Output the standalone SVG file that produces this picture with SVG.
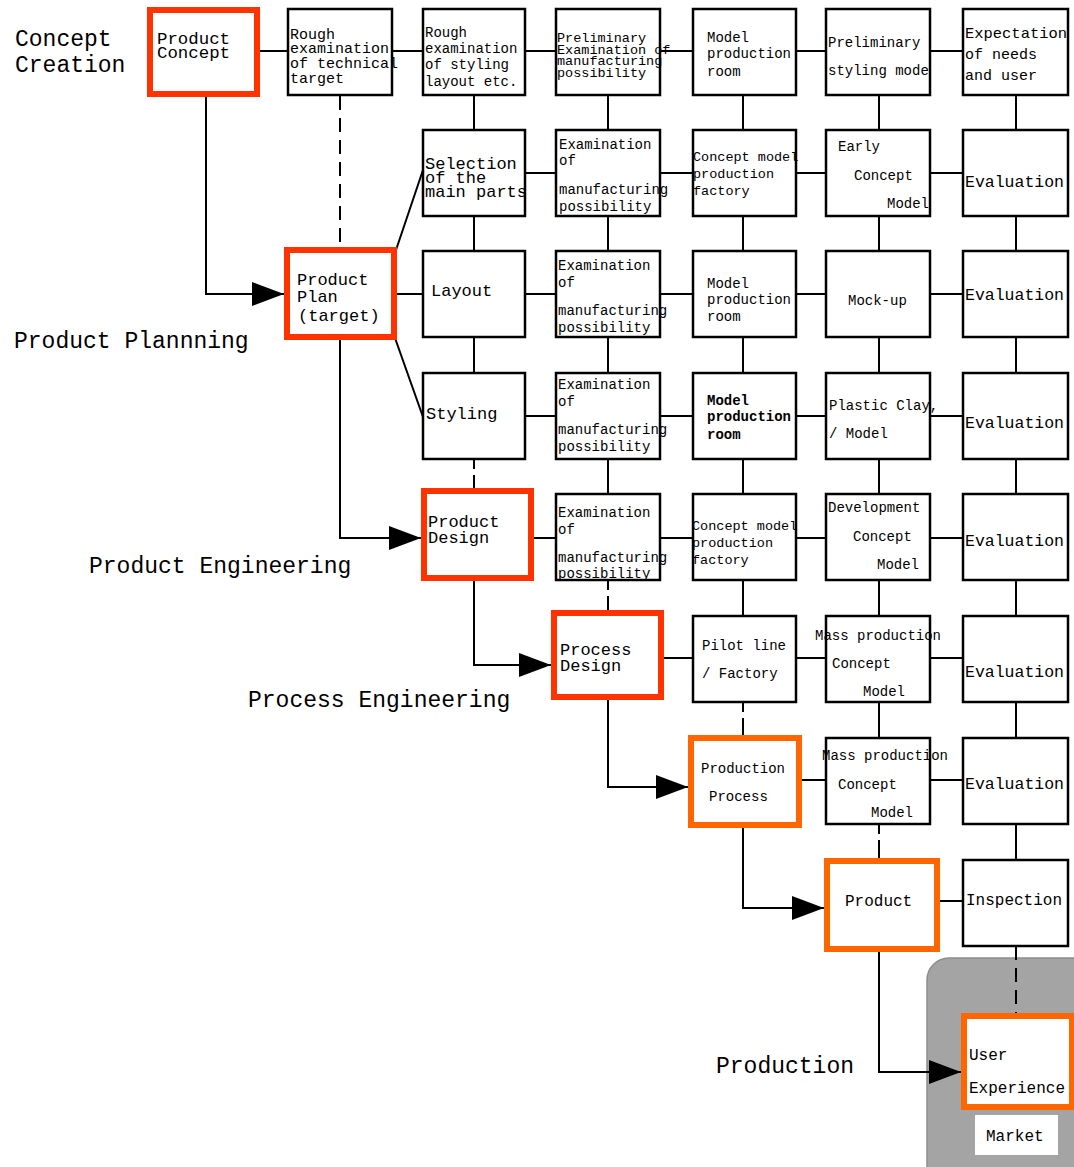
<svg xmlns="http://www.w3.org/2000/svg" width="1074" height="1167" viewBox="0 0 1074 1167">
<style>
.box{fill:#fff;stroke:#000;stroke-width:2.5}
.hr{fill:#fff;stroke:#ff3300;stroke-width:6}
.ho{fill:#fff;stroke:#ff6600;stroke-width:6}
.c{stroke:#000;stroke-width:2;fill:none}
.dash{stroke-dasharray:14 8}
.brk{stroke-dasharray:10 6 100 0}
text{font-family:"Liberation Mono","DejaVu Sans Mono",monospace;fill:#000}
.s13{font-size:13.5px}
.s14{font-size:14px}
.s15{font-size:15px}
.s16{font-size:16px}
.s17{font-size:17px}
.ev{font-size:16.5px}
.lab{font-size:23px}
.b{font-weight:bold}
</style>
<defs>
<marker id="ar" markerUnits="userSpaceOnUse" markerWidth="34" markerHeight="26" refX="32" refY="13" orient="auto">
<path d="M0 1 L32 13 L0 25 Z" fill="#000"/>
</marker>
</defs>
<rect width="1074" height="1167" fill="#fff"/>
<rect id="market-area" x="927" y="958" width="170" height="230" rx="22" fill="#a4a4a4" stroke="#8c8c8c" stroke-width="1.5"/>

<g id="labels">
<text class="lab" x="15" y="46">Concept</text>
<text class="lab" x="15" y="72">Creation</text>
<text class="lab" x="14" y="348">Product Plannning</text>
<text class="lab" x="89" y="573">Product Engineering</text>
<text class="lab" x="248" y="707">Process Engineering</text>
<text class="lab" x="716" y="1073">Production</text>
</g>

<g id="connectors">
<path class="c" d="M260 51H288M392 51H423M525 51H556M660 51H693M796 51H826M930 51H963"/>
<path class="c" d="M525 173H556M660 173H693M796 173H826M930 173H963"/>
<path class="c" d="M397 294H423M525 294H556M660 294H693M796 294H826M930 294H963"/>
<path class="c" d="M525 416H556M660 416H693M796 416H826M930 416H963"/>
<path class="c" d="M534 538H556M660 538H693M796 538H826M930 538H963"/>
<path class="c" d="M664 658H693M796 658H826M930 658H963"/>
<path class="c" d="M802 780H826M930 780H963"/>
<path class="c" d="M940 901H963"/>
<path class="c" d="M396 250L423 170M395 338L423 417"/>
<path class="c dash" d="M340 96V247"/>
<path class="c" d="M474 95V130M474 216V251M474 337V373"/>
<path class="c brk" d="M474 459V488"/>
<path class="c" d="M608 95V130M608 216V251M608 337V373M608 459V494"/>
<path class="c brk" d="M608 580V610"/>
<path class="c" d="M743 95V130M743 216V251M743 337V373M743 459V494M743 580V616"/>
<path class="c brk" d="M743 702V735"/>
<path class="c" d="M879 95V130M879 216V251M879 337V373M879 459V494M879 580V616M879 702V738"/>
<path class="c brk" d="M879 824V858"/>
<path class="c" d="M1016 95V130M1016 216V251M1016 337V373M1016 459V494M1016 580V616M1016 702V738M1016 824V860"/>
<path class="c dash" d="M1016 946V1013"/>
<path class="c" marker-end="url(#ar)" d="M206 97V294H284"/>
<path class="c" marker-end="url(#ar)" d="M340 340V538H421"/>
<path class="c" marker-end="url(#ar)" d="M474 581V665H551"/>
<path class="c" marker-end="url(#ar)" d="M608 700V787H688"/>
<path class="c" marker-end="url(#ar)" d="M743 828V908H824"/>
<path class="c" marker-end="url(#ar)" d="M879 952V1072H961"/>
</g>

<g id="product-concept"><rect class="hr" x="150" y="10" width="107" height="84"/>
<text class="s16" x="157" y="44" textLength="73" lengthAdjust="spacingAndGlyphs">Product</text><text class="s16" x="157" y="58" textLength="73" lengthAdjust="spacingAndGlyphs">Concept</text></g>
<g id="rough-tech"><rect class="box" x="288" y="9" width="104" height="86"/>
<text class="s15" x="290" y="39">Rough</text><text class="s15" x="290" y="53">examination</text><text class="s15" x="290" y="68">of technical</text><text class="s15" x="290" y="83">target</text></g>
<g id="rough-styling"><rect class="box" x="423" y="9" width="102" height="86"/>
<text class="s14" x="425" y="37">Rough</text><text class="s14" x="425" y="53">examination</text><text class="s14" x="425" y="69">of styling</text><text class="s14" x="425" y="86">layout etc.</text></g>
<g id="prelim-exam"><rect class="box" x="556" y="9" width="104" height="86"/>
<text class="s13" x="557" y="42">Preliminary</text><text class="s13" x="557" y="54">Examination of</text><text class="s13" x="557" y="65">manufacturing</text><text class="s13" x="557" y="77">possibility</text></g>
<g id="model-room-0"><rect class="box" x="693" y="9" width="103" height="86"/>
<text class="s14" x="707" y="42">Model</text><text class="s14" x="707" y="58">production</text><text class="s14" x="707" y="76">room</text></g>
<g id="prelim-styling"><rect class="box" x="826" y="9" width="104" height="86"/>
<text class="s14" x="828" y="47">Preliminary</text><text class="s14" x="828" y="75">styling mode</text></g>
<g id="expectation"><rect class="box" x="963" y="9" width="105" height="86"/>
<text class="s15" x="965" y="38" textLength="102" lengthAdjust="spacingAndGlyphs">Expectation</text><text class="s15" x="965" y="59">of needs</text><text class="s15" x="965" y="80">and user</text></g>

<g id="selection"><rect class="box" x="423" y="130" width="102" height="86"/>
<text class="s17" x="425" y="169">Selection</text><text class="s17" x="425" y="183">of the</text><text class="s17" x="425" y="197">main parts</text></g>
<g id="exam-1"><rect class="box" x="556" y="130" width="104" height="86"/>
<text class="s14" x="559" y="149">Examination</text><text class="s14" x="559" y="165">of</text><text class="s14" x="559" y="194">manufacturing</text><text class="s14" x="559" y="211">possibility</text></g>
<g id="concept-factory-1"><rect class="box" x="693" y="130" width="103" height="86"/>
<text class="s13" x="693" y="161">Concept model</text><text class="s13" x="693" y="178">production</text><text class="s13" x="693" y="195">factory</text></g>
<g id="early-concept"><rect class="box" x="826" y="130" width="104" height="86"/>
<text class="s14" x="838" y="151">Early</text><text class="s14" x="854" y="180">Concept</text><text class="s14" x="887" y="208">Model</text></g>
<g id="eval-1"><rect class="box" x="963" y="130" width="105" height="86"/>
<text class="ev" x="965" y="187">Evaluation</text></g>

<g id="product-plan"><rect class="hr" x="287" y="250" width="107" height="87"/>
<text class="s17" x="297" y="285">Product</text><text class="s17" x="297" y="302">Plan</text><text class="s17" x="298" y="321">(target)</text></g>
<g id="layout"><rect class="box" x="423" y="251" width="102" height="86"/>
<text class="s17" x="431" y="296">Layout</text></g>
<g id="exam-2"><rect class="box" x="556" y="251" width="104" height="86"/>
<text class="s14" x="558" y="270">Examination</text><text class="s14" x="558" y="287">of</text><text class="s14" x="558" y="315">manufacturing</text><text class="s14" x="558" y="332">possibility</text></g>
<g id="model-room-2"><rect class="box" x="693" y="251" width="103" height="86"/>
<text class="s14" x="707" y="288">Model</text><text class="s14" x="707" y="304">production</text><text class="s14" x="707" y="321">room</text></g>
<g id="mockup"><rect class="box" x="826" y="251" width="104" height="86"/>
<text class="s14" x="848" y="305">Mock-up</text></g>
<g id="eval-2"><rect class="box" x="963" y="251" width="105" height="86"/>
<text class="ev" x="965" y="300">Evaluation</text></g>

<g id="styling"><rect class="box" x="423" y="373" width="102" height="86"/>
<text class="s17" x="426" y="419">Styling</text></g>
<g id="exam-3"><rect class="box" x="556" y="373" width="104" height="86"/>
<text class="s14" x="558" y="389">Examination</text><text class="s14" x="558" y="406">of</text><text class="s14" x="558" y="434">manufacturing</text><text class="s14" x="558" y="451">possibility</text></g>
<g id="model-room-3"><rect class="box" x="693" y="373" width="103" height="86"/>
<text class="s14 b" x="707" y="405">Model</text><text class="s14 b" x="707" y="421">production</text><text class="s14 b" x="707" y="439">room</text></g>
<g id="plastic-clay"><rect class="box" x="826" y="373" width="104" height="86"/>
<text class="s14" x="829" y="410">Plastic Clay,</text><text class="s14" x="829" y="438">/ Model</text></g>
<g id="eval-3"><rect class="box" x="963" y="373" width="105" height="86"/>
<text class="ev" x="965" y="428">Evaluation</text></g>

<g id="product-design"><rect class="hr" x="424" y="491" width="107" height="87"/>
<text class="s17" x="428" y="527">Product</text><text class="s17" x="428" y="543">Design</text></g>
<g id="exam-4"><rect class="box" x="556" y="494" width="104" height="86"/>
<text class="s14" x="558" y="517">Examination</text><text class="s14" x="558" y="534">of</text><text class="s14" x="558" y="562">manufacturing</text><text class="s14" x="558" y="578">possibility</text></g>
<g id="concept-factory-4"><rect class="box" x="693" y="494" width="103" height="86"/>
<text class="s13" x="692" y="530">Concept model</text><text class="s13" x="692" y="547">production</text><text class="s13" x="692" y="564">factory</text></g>
<g id="development"><rect class="box" x="826" y="494" width="104" height="86"/>
<text class="s14" x="828" y="512">Development</text><text class="s14" x="853" y="541">Concept</text><text class="s14" x="877" y="569">Model</text></g>
<g id="eval-4"><rect class="box" x="963" y="494" width="105" height="86"/>
<text class="ev" x="965" y="546">Evaluation</text></g>

<g id="process-design"><rect class="hr" x="554" y="613" width="107" height="84"/>
<text class="s17" x="560" y="655">Process</text><text class="s17" x="560" y="671">Design</text></g>
<g id="pilot-line"><rect class="box" x="693" y="616" width="103" height="86"/>
<text class="s14" x="702" y="650">Pilot line</text><text class="s14" x="702" y="678">/ Factory</text></g>
<g id="mass-5"><rect class="box" x="826" y="616" width="104" height="86"/>
<text class="s14" x="815" y="640">Mass production</text><text class="s14" x="832" y="668">Concept</text><text class="s14" x="863" y="696">Model</text></g>
<g id="eval-5"><rect class="box" x="963" y="616" width="105" height="86"/>
<text class="ev" x="965" y="677">Evaluation</text></g>

<g id="production-process"><rect class="ho" x="691" y="738" width="108" height="87"/>
<text class="s14" x="701" y="773">Production</text><text class="s14" x="709" y="801">Process</text></g>
<g id="mass-6"><rect class="box" x="826" y="738" width="104" height="86"/>
<text class="s14" x="822" y="760">Mass production</text><text class="s14" x="838" y="789">Concept</text><text class="s14" x="871" y="817">Model</text></g>
<g id="eval-6"><rect class="box" x="963" y="738" width="105" height="86"/>
<text class="ev" x="965" y="789">Evaluation</text></g>

<g id="product"><rect class="ho" x="827" y="861" width="110" height="88"/>
<text class="s16" x="845" y="906">Product</text></g>
<g id="inspection"><rect class="box" x="963" y="860" width="105" height="86"/>
<text class="s16" x="966" y="905">Inspection</text></g>

<g id="user-experience"><rect class="ho" x="964" y="1016" width="108" height="91"/>
<text class="s16" x="969" y="1060">User</text><text class="s16" x="969" y="1093">Experience</text></g>
<g id="market"><rect x="975" y="1115" width="83" height="40" fill="#fff"/>
<text class="s16" x="986" y="1141">Market</text></g>
</svg>
